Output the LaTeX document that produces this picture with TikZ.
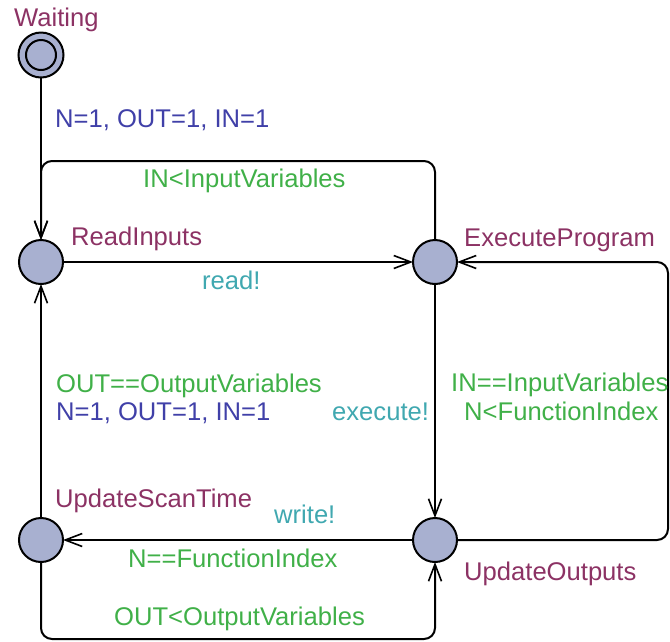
\documentclass[tikz,border=0pt]{standalone}
\usepackage{fontspec}
\setmainfont{Liberation Sans}
\usetikzlibrary{arrows.meta}
\definecolor{locname}{RGB}{140,50,100}
\definecolor{guardc}{RGB}{64,176,72}
\definecolor{assignc}{RGB}{64,64,168}
\definecolor{syncc}{RGB}{64,168,176}
\definecolor{locfill}{RGB}{168,176,208}
\tikzset{
  loc/.style={circle,draw=black,line width=2pt,fill=locfill,minimum size=44pt,inner sep=0pt,outer sep=0pt},
  locin/.style={circle,draw=black,line width=2pt,minimum size=30pt,inner sep=0pt},
  lbl/.style={anchor=base west,inner sep=0pt,font=\fontsize{25.6}{30}\selectfont},
  lname/.style={lbl,text=locname},
  guard/.style={lbl,text=guardc},
  assign/.style={lbl,text=assignc},
  sync/.style={lbl,text=syncc},
  conn/.style={draw=black,line width=2pt,-{Straight Barb[length=17pt,width=13pt,line width=1.6pt]}},
  bentconn/.style={conn,rounded corners=11pt}
}
\begin{document}
\begin{tikzpicture}[x=1pt,y=-1pt]
\useasboundingbox (0,0) rectangle (670,641);
% locations
\node[loc,minimum size=45pt] (W) at (41,55) {};
\node[locin] (Wi) at (41,55) {};
\node[loc] (RI) at (41,262) {};
\node[loc] (EP) at (435,262) {};
\node[loc] (UO) at (435,540) {};
\node[loc] (UST) at (41,540) {};
% corner coordinates
\coordinate (c1) at (435,161);
\coordinate (c2) at (41,161);
\coordinate (c3) at (668,540);
\coordinate (c4) at (668,262);
\coordinate (c5) at (41,639);
\coordinate (c6) at (435,639);
% connectors
\draw[conn] (W) -- (RI);
\draw[bentconn] (EP) -- (c1) -- (c2) -- (RI);
\draw[conn] (RI) -- (EP);
\draw[conn] (EP) -- (UO);
\draw[bentconn] (UO) -- (c3) -- (c4) -- (EP);
\draw[conn] (UO) -- (UST);
\draw[conn] (UST) -- (RI);
\draw[bentconn] (UST) -- (c5) -- (c6) -- (UO);
% location names
\node[lname] (nW) at (14,26) {Waiting};
\node[lname] (nRI) at (71,245) {ReadInputs};
\node[lname] (nEP) at (464,246) {ExecuteProgram};
\node[lname] (nUO) at (464,580) {UpdateOutputs};
\node[lname] (nUST) at (55,507) {UpdateScanTime};
% labels
\node[assign] (a1) at (55,127) {N=1, OUT=1, IN=1};
\node[guard] (g1) at (143,187) {IN<InputVariables};
\node[sync] (s1) at (202,289) {read!};
\node[guard] (g2) at (56,392) {OUT==OutputVariables};
\node[assign] (a2) at (56,420) {N=1, OUT=1, IN=1};
\node[sync] (s2) at (332,420) {execute!};
\node[guard] (g3) at (451,391) {IN==InputVariables};
\node[guard] (g4) at (464,420) {N<FunctionIndex};
\node[sync] (s3) at (274,523) {write!};
\node[guard] (g5) at (128,567) {N==FunctionIndex};
\node[guard] (g6) at (114,625) {OUT<OutputVariables};
\end{tikzpicture}
\end{document}
